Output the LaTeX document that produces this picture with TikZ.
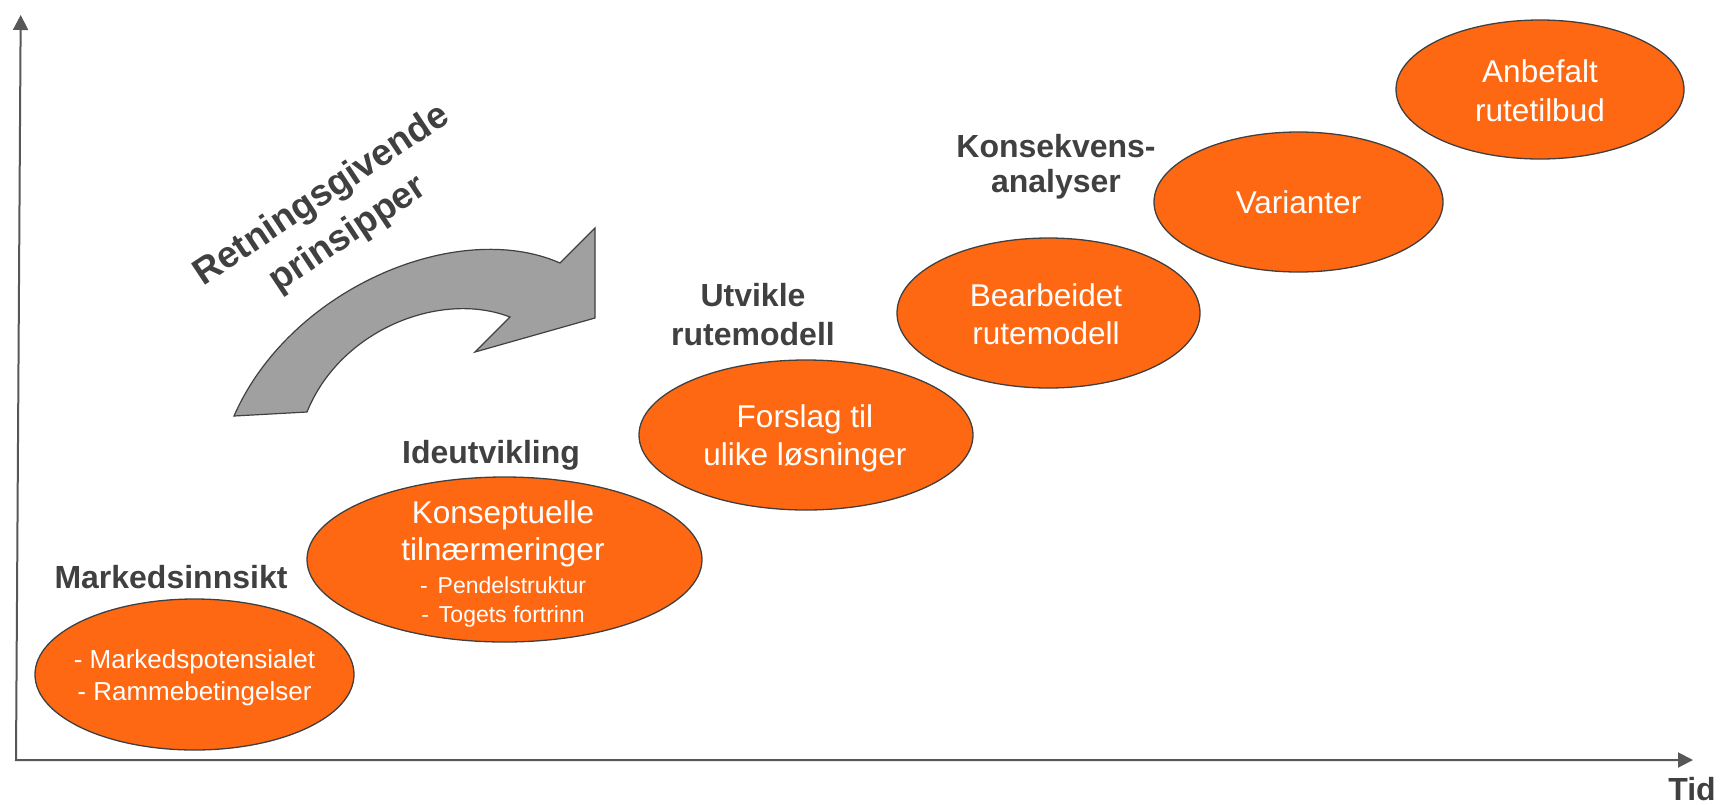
\documentclass[tikz,border=0pt]{standalone}
\usepackage{fontspec}
\setmainfont{Liberation Sans}
\usetikzlibrary{arrows.meta,shapes.geometric}
\definecolor{blob}{RGB}{255,104,18}
\definecolor{edge}{HTML}{404040}
\definecolor{ink}{HTML}{404040}
\definecolor{axiscol}{HTML}{575757}
\definecolor{bendfill}{HTML}{A0A0A0}

\begin{document}
\begin{tikzpicture}[x=1pt,y=-1pt,
  stage/.style={ellipse, draw=edge, line width=1.3pt, fill=blob, inner sep=0pt},
  intext/.style={text=white, align=center, inner sep=0pt, font=\fontsize{31.5}{38}\selectfont},
  phase/.style={text=ink, align=center, inner sep=0pt, font=\bfseries\fontsize{32}{39}\selectfont},
  axisline/.style={draw=axiscol, line width=2pt, line join=miter,
    {Triangle[length=15pt,width=15pt]}-{Triangle[length=15pt,width=15pt]}},
  bendarrow/.style={fill=bendfill, draw=edge, line width=1.2pt, line join=miter},
]
\useasboundingbox (0,0) rectangle (1720,804);

% axes
\coordinate (origin) at (16,760);
\coordinate (ytop) at (20.7,15);
\coordinate (xend) at (1693,760);
\draw[axisline] (ytop) -- (origin) -- (xend);
\node[phase, anchor=base] (tid) at (1692,800) {Tid};

% curved arrow
\draw[bendarrow] (234,416) .. controls (290,288) and (458,218) .. (560,263)
  -- (595,228) -- (595,318) -- (475,352) -- (510,317)
  .. controls (440,290) and (340,330) .. (307,412) -- cycle;
\node[phase, rotate=33.6, font=\bfseries\fontsize{37}{47}\selectfont] (principles) at (335.3,215.3)
  {Retningsgivende\\prinsipper};

% stages
\node[stage, minimum width=319pt, minimum height=151pt] (e1) at (194.5,674.5) {};
\node[stage, minimum width=395pt, minimum height=165pt] (e2) at (504.5,559.5) {};
\node[stage, minimum width=334pt, minimum height=150pt] (e3) at (806,435) {};
\node[stage, minimum width=303pt, minimum height=150pt] (e4) at (1048.5,313) {};
\node[stage, minimum width=289pt, minimum height=140pt] (e5) at (1298.5,202) {};
\node[stage, minimum width=288pt, minimum height=139pt] (e6) at (1540,89.5) {};

% stage texts
\node[intext, font=\fontsize{26}{32}\selectfont] (t1) at (194.5,677.5)
  {- Markedspotensialet\\- Rammebetingelser};
\node[intext, font=\fontsize{31.5}{37}\selectfont] (t2) at (503,563.6)
  {Konseptuelle\\tilnærmeringer\\[-4pt]
   \fontsize{23}{29}\selectfont -\hspace{10pt}Pendelstruktur\\[-8pt]
   \fontsize{23}{29}\selectfont -\hspace{10pt}Togets fortrinn};
\node[intext] (t3) at (805,438) {Forslag til\\ulike løsninger};
\node[intext] (t4) at (1046,314.7) {Bearbeidet\\rutemodell};
\node[intext, anchor=base] (t5) at (1298.5,213) {Varianter};
\node[intext, font=\fontsize{31.5}{39}\selectfont] (t6) at (1540,91.2) {Anbefalt\\rutetilbud};

% phase labels
\node[phase, anchor=base] (l1) at (171,588) {Markedsinnsikt};
\node[phase, anchor=base] (l2) at (491,463) {Ideutvikling};
\node[phase] (l3) at (753,315) {Utvikle\\rutemodell};
\node[phase, font=\bfseries\fontsize{32}{35}\selectfont] (l4) at (1056,166.4) {Konsekvens-\\analyser};
\end{tikzpicture}
\end{document}
